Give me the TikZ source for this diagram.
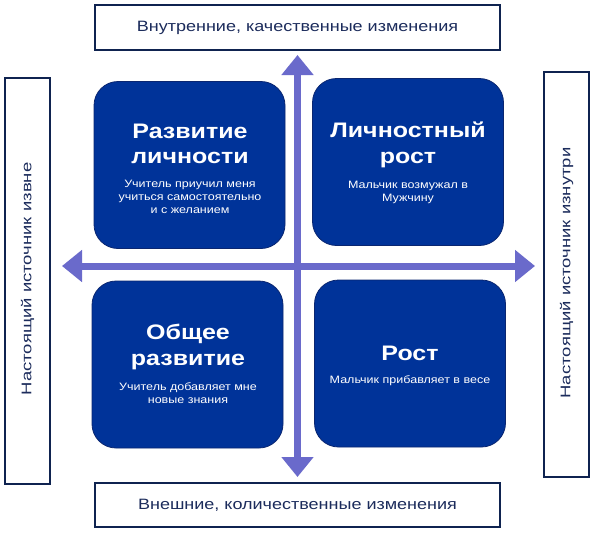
\documentclass[tikz,border=0pt]{standalone}
\usepackage{fontspec}
\setmainfont{Liberation Sans}
\newfontfamily\labfont[FakeStretch=1.2]{Liberation Sans}
\newfontfamily\sidefont[FakeStretch=1.32]{Liberation Sans}
\newfontfamily\titlefont[FakeStretch=1.19]{Liberation Sans}
\newfontfamily\subfont[FakeStretch=1.17]{Liberation Sans}
\usetikzlibrary{arrows.meta}
\definecolor{qblue}{HTML}{003399}
\definecolor{qedge}{HTML}{0A2670}
\definecolor{navy}{HTML}{0F2350}
\definecolor{txtnavy}{HTML}{1C2C5C}
\definecolor{arrowc}{HTML}{6A6ACB}
\begin{document}
\begin{tikzpicture}[x=1pt,y=-1pt,
  quad/.style={draw=qedge, line width=0.8pt, fill=qblue, rounded corners=24pt, minimum width=191pt, minimum height=167pt, inner sep=0pt},
  outer/.style={draw=navy, line width=1.5pt, fill=white, inner sep=0pt},
  title/.style={text=white, font=\titlefont\bfseries\fontsize{21}{25.5}\selectfont, align=center},
  sub/.style={text=white, font=\subfont\fontsize{10.7}{13}\selectfont, align=center},
  lab/.style={text=txtnavy, font=\labfont\fontsize{15}{18}\selectfont},
  sidelab/.style={text=txtnavy, font=\sidefont\fontsize{14}{17}\selectfont, rotate=90},
  axis/.style={draw=arrowc, line width=7pt, {Triangle[width=31pt,length=20pt]}-{Triangle[width=31pt,length=20pt]}}
]
\useasboundingbox (0,0) rectangle (594,533);
\fill[white] (0,0) rectangle (594,533);

% outer boxes
\node[outer, minimum width=405pt, minimum height=45pt] (top) at (297.5,27.5) {};
\node[lab] (toptxt) at (top.center) {Внутренние, качественные изменения};
\node[outer, minimum width=405pt, minimum height=44pt] (bot) at (297.5,505) {};
\node[lab] (bottxt) at (bot.center) {Внешние, количественные изменения};
\node[outer, minimum width=45pt, minimum height=406pt] (left) at (27.5,281) {};
\node[sidelab] (lefttxt) at (27.5,279) {Настоящий источник извне};
\node[outer, minimum width=45pt, minimum height=405pt] (right) at (566.5,274.5) {};
\node[sidelab] (righttxt) at (566.5,273) {Настоящий источник изнутри};

% quadrants
\node[quad] (tl) at (189.5,165) {};
\node[quad] (tr) at (408,162) {};
\node[quad] (bl) at (187.5,364.5) {};
\node[quad] (br) at (410,363.5) {};

% axes
\coordinate (ntip) at (297.5,55);
\coordinate (stip) at (297.5,477);
\coordinate (wtip) at (62,266);
\coordinate (etip) at (535,266);
\draw[axis] (wtip) -- (etip);
\draw[axis] (stip) -- (ntip);

% texts
\node[title] (tlt) at (190,144) {Развитие\\личности};
\node[sub] (tls) at (190,197) {Учитель приучил меня\\учиться самостоятельно\\и с желанием};
\node[title] (trt) at (408,145) {Личностный\\рост};
\node[sub] (trs) at (408,192) {Мальчик возмужал в\\Мужчину};
\node[title] (blt) at (188,347) {Общее\\развитие};
\node[sub] (bls) at (188,393) {Учитель добавляет мне\\новые знания};
\node[title] (brt) at (410,353) {Рост};
\node[sub] (brs) at (410,381) {Мальчик прибавляет в весе};
\end{tikzpicture}
\end{document}
